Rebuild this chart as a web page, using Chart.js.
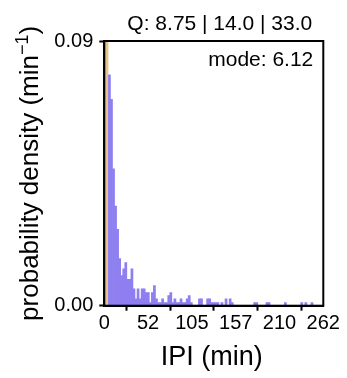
<!DOCTYPE html>
<html><head><meta charset="utf-8">
<script src="https://cdn.jsdelivr.net/npm/chart.js@4/dist/chart.umd.min.js"></script>
<style>html,body{margin:0;padding:0;background:#fff;overflow:hidden}</style>
</head><body>
<canvas id="c" width="347" height="378" style="display:block;width:347px;height:378px"></canvas>
<script>
// ---- data ----
const binStart = 4.9;      // first bin edge (min)
const binWidth = 2.448;    // bin width (min)
const density = [
  0.0785, 0.0702, 0.0465, 0.0339, 0.0260, 0.0160, 0.0102, 0.0125, 0.0147, 0.0090,
  0.0090, 0.0125, 0.0057, 0.0023, 0.0057, 0.0023, 0.0057, 0.0057, 0.0045, 0.0045,
  0.0011, 0.0045, 0.0068, 0.0023, 0.0011, 0.0011, 0.0023, 0.0011, 0.0011, 0.0034,
  0.0045, 0.0011, 0.0023, 0.0011, 0.0011, 0.0023, 0.0011, 0.0011, 0.0023, 0.0034,
  0.0011, 0,      0,      0,      0.0023, 0.0023, 0,      0,      0.0023, 0.0023,
  0.0011, 0.0011, 0.0011, 0.0011, 0,      0.0011, 0,      0.0023, 0,      0.0023,
  0.0011, 0,      0,      0,      0,      0,      0,      0,      0,      0,
  0,      0.0011, 0.0011, 0,      0,      0,      0,      0.0011, 0.0011, 0,
  0,      0,      0,      0,      0,      0,      0.0011, 0,      0,      0,
  0,      0,      0,      0,      0.0011, 0,      0.0011, 0,      0,      0.0011
];
const binCenters = density.map((_, i) => binStart + binWidth * (i + 0.5));
const xTickValues = [0, 52.4, 104.8, 157.2, 209.6, 262];
const yTickValues = [0, 0.09];
const shadeEnd = 4.9;      // shaded band from 0 to this value (min)
const titleText = 'Q: 8.75 | 14.0 | 33.0';
const modeText = 'mode: 6.12';
const xTitle = 'IPI (min)';
const yTitleMain = 'probability density (min';
const yTitleSup = '\u22121';

// ---- styles ----
const FONT = '"Liberation Sans", Arial, Helvetica, sans-serif';
const barColor = '#8E7FF1';
const shadeColor = '#E3C68E';

const decor = {
  id: 'decor',
  beforeDatasetsDraw(chart) {
    const {ctx, chartArea: a, scales: {x}} = chart;
    const x0 = x.getPixelForValue(0), x1 = x.getPixelForValue(shadeEnd);
    ctx.save();
    ctx.fillStyle = shadeColor;
    ctx.fillRect(x0, a.top, x1 - x0, a.bottom - a.top);
    ctx.restore();
  },
  afterDraw(chart) {
    const {ctx, chartArea: a} = chart;
    ctx.save();
    ctx.strokeStyle = '#000';
    ctx.lineWidth = 2;
    ctx.strokeRect(a.left, a.top, a.right - a.left, a.bottom - a.top);
    ctx.fillStyle = '#000';
    const cx = (a.left + a.right) / 2;
    // title
    ctx.font = '21px ' + FONT;
    ctx.textAlign = 'center';
    ctx.textBaseline = 'alphabetic';
    ctx.fillText(titleText, cx + 6, a.top - 11);
    // mode annotation
    ctx.textAlign = 'right';
    ctx.fillText(modeText, a.right - 10, a.top + 25);
    // x title
    ctx.font = '27px ' + FONT;
    ctx.textAlign = 'center';
    ctx.fillText(xTitle, cx - 2, 365);
    // y title with superscript
    const cy = (a.top + a.bottom) / 2;
    ctx.translate(38, cy);
    ctx.rotate(-Math.PI / 2);
    ctx.font = '26px ' + FONT;
    const w1 = ctx.measureText(yTitleMain).width;
    ctx.font = '18px ' + FONT;
    const w2 = ctx.measureText(yTitleSup).width;
    ctx.font = '26px ' + FONT;
    const w3 = ctx.measureText(')').width;
    let sx = -(w1 + w2 + w3) / 2;
    ctx.textAlign = 'left';
    ctx.fillText(yTitleMain, sx, 0);
    ctx.font = '18px ' + FONT;
    ctx.fillText(yTitleSup, sx + w1, -10);
    ctx.font = '26px ' + FONT;
    ctx.fillText(')', sx + w1 + w2, 0);
    ctx.restore();
  }
};

new Chart(document.getElementById('c'), {
  type: 'bar',
  data: {
    datasets: [{
      data: binCenters.map((c, i) => ({x: c, y: density[i]})),
      backgroundColor: barColor,
      borderWidth: 0,
      barPercentage: 1,
      categoryPercentage: 1
    }]
  },
  options: {
    responsive: false,
    animation: false,
    events: [],
    layout: {padding: {left: 0, top: 41, right: 23.7, bottom: 0}},
    plugins: {legend: {display: false}, tooltip: {enabled: false}, title: {display: false}},
    scales: {
      x: {
        type: 'linear',
        min: 0, max: 262,
        offset: false,
        afterBuildTicks: s => { s.ticks = xTickValues.map(v => ({value: v})); },
        afterFit: s => { s.height = 72.3; },
        ticks: {
          callback: v => String(Math.round(v)),
          font: {family: FONT, size: 20}, color: '#000', padding: 1, maxRotation: 0, autoSkip: false
        },
        grid: {drawOnChartArea: false, drawTicks: true, tickLength: 5, tickWidth: 2, tickColor: '#000'},
        border: {display: true, color: '#000', width: 2}
      },
      y: {
        min: 0, max: 0.09,
        afterBuildTicks: s => { s.ticks = yTickValues.map(v => ({value: v})); },
        afterFit: s => { s.width = 104.3; },
        ticks: {
          callback: v => Number(v).toFixed(2),
          font: {family: FONT, size: 20}, color: '#000', padding: 6
        },
        grid: {drawOnChartArea: false, drawTicks: true, tickLength: 5, tickWidth: 2, tickColor: '#000'},
        border: {display: true, color: '#000', width: 2}
      }
    }
  },
  plugins: [decor]
});
</script>
</body></html>
